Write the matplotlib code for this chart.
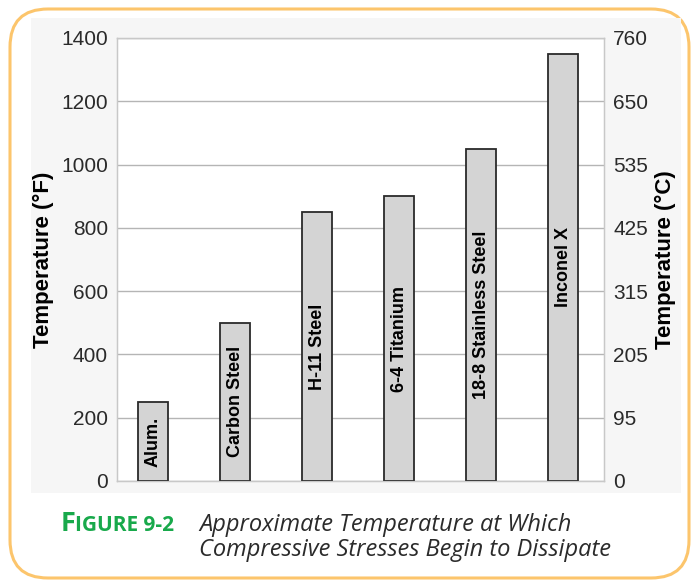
import matplotlib
matplotlib.use('Agg')
from matplotlib import pyplot as plt
from matplotlib.patches import FancyBboxPatch, Rectangle
from matplotlib.transforms import IdentityTransform
import numpy as np

# datos
materiales = ['Alum.', 'Carbon Steel', 'H-11 Steel', '6-4 Titanium',
              '18-8 Stainless Steel', 'Inconel X']
temp_f = [250, 500, 850, 900, 1050, 1350]
ticks_f = [0, 200, 400, 600, 800, 1000, 1200, 1400]
ticks_c = ['0', '95', '205', '315', '425', '535', '650', '760']

plt.rcParams['font.family'] = ['Liberation Sans', 'DejaVu Sans']

fig = plt.figure(figsize=(6.92, 5.80), dpi=100)
fig.patch.set_facecolor('white')

# marco redondeado naranja y fondo gris claro del grafico
marco = FancyBboxPatch((10, 2), 679, 569, boxstyle='round,pad=0,rounding_size=38',
                       transform=IdentityTransform(), facecolor='white',
                       edgecolor='#fcc56c', linewidth=2.2, zorder=-2)
fig.patches.append(marco)
fondo = Rectangle((31, 87), 650, 475, transform=IdentityTransform(),
                  facecolor='#f6f6f6', edgecolor='none', zorder=-1)
fig.patches.append(fondo)

ax = fig.add_axes([0.169, 0.1707, 0.704, 0.7638])
ax.set_facecolor('white')
x = np.arange(len(materiales))
ax.bar(x, temp_f, width=0.37, color='#d4d4d4', edgecolor='#2a2a2a',
       linewidth=1.3, zorder=3)
for xi, v, nombre in zip(x, temp_f, materiales):
    ax.text(xi, v / 2, nombre, rotation=90, ha='center', va='center',
            fontsize=13, fontweight='bold', color='black', zorder=4)

ax.set_xlim(-0.44, 5.5)
ax.set_ylim(0, 1400)
ax.set_yticks(ticks_f)
ax.set_xticks([])
ax.grid(axis='y', color='#b5b5b5', linewidth=1.0, zorder=0)
ax.tick_params(axis='y', length=0, pad=6.5, labelsize=15, labelcolor='#2a2a2a')
for s in ax.spines.values():
    s.set_color('#c8c8c8')
    s.set_linewidth(1.0)
ax.set_ylabel('Temperature (°F)', fontsize=16, fontweight='bold', labelpad=5)

ax2 = ax.twinx()
ax2.set_ylim(0, 1400)
ax2.set_yticks(ticks_f)
ax2.set_yticklabels(ticks_c)
ax2.tick_params(axis='y', length=0, pad=6.5, labelsize=15, labelcolor='#2a2a2a')
for s in ax2.spines.values():
    s.set_color('#c8c8c8')
ax2.set_ylabel('Temperature (°C)', fontsize=16, fontweight='bold', labelpad=5)

# pie de figura
verde = '#18a94b'
fig.text(61 / 692, 1 - 531 / 580, 'F', fontsize=19.5, color=verde,
         family='Open Sans', fontweight='bold', va='baseline')
fig.text(75 / 692, 1 - 531 / 580, 'IGURE 9-2', fontsize=15, color=verde,
         family='Open Sans', fontweight='bold', va='baseline')
fig.text(199 / 692, 1 - 531 / 580, 'Approximate Temperature at Which',
         fontsize=17, style='italic', family='Open Sans', color='#2b2b2b',
         va='baseline')
fig.text(199 / 692, 1 - 556 / 580, 'Compressive Stresses Begin to Dissipate',
         fontsize=17, style='italic', family='Open Sans', color='#2b2b2b',
         va='baseline')

fig.savefig('out.png', dpi=100, facecolor='white')
